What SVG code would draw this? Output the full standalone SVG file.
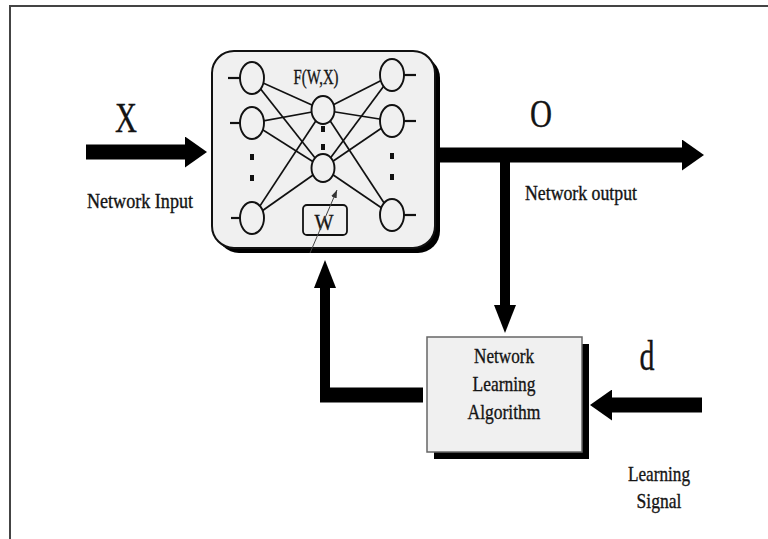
<svg xmlns="http://www.w3.org/2000/svg" width="768" height="539" viewBox="0 0 768 539">
  <style>
    .txt { font-family: "Liberation Serif", "Times New Roman", serif; fill: #141414; stroke: #141414; stroke-width: 0.35; }
    .neuron { fill: #f0f0f0; stroke: #111; stroke-width: 1.9; }
    .syn { stroke: #111; stroke-width: 1.7; fill: none; }
    .tick { stroke: #111; stroke-width: 2.2; }
    .dot { fill: #111; }
    .flow-h { stroke: #000; stroke-width: 15; fill: none; }
    .flow-v { stroke: #000; stroke-width: 10; fill: none; }
  </style>
  <defs>
    <marker id="head-h" markerUnits="userSpaceOnUse" viewBox="0 0 22 31" refX="0" refY="15.5" markerWidth="22" markerHeight="31" orient="auto">
      <path d="M0,0 L22,15.5 L0,31 Z" fill="#000"/>
    </marker>
    <marker id="head-v" markerUnits="userSpaceOnUse" viewBox="0 0 28 22" refX="0" refY="11" markerWidth="28" markerHeight="22" orient="auto">
      <path d="M0,0 L28,11 L0,22 Z" fill="#000"/>
    </marker>
    <marker id="head-thin" markerUnits="userSpaceOnUse" viewBox="0 0 8 6" refX="8" refY="3" markerWidth="8" markerHeight="6" orient="auto">
      <path d="M0,0 L8,3 L0,6 Z" fill="#333"/>
    </marker>
  </defs>

  <rect width="768" height="539" fill="#fff"/>
  <!-- page frame -->
  <path d="M10,539 V6 H768" fill="none" stroke="#444" stroke-width="2"/>

  <!-- neural network block -->
  <g id="network">
    <rect x="217" y="56" width="223" height="197" rx="22" fill="#000"/>
    <rect x="212" y="51" width="223" height="197" rx="22" fill="#f0f0f0" stroke="#111" stroke-width="2"/>
    <g class="syn">
      <line x1="252" y1="78" x2="323" y2="110"/>
      <line x1="252" y1="78" x2="323" y2="168"/>
      <line x1="252" y1="123" x2="323" y2="110"/>
      <line x1="252" y1="123" x2="323" y2="168"/>
      <line x1="252" y1="218" x2="323" y2="110"/>
      <line x1="252" y1="218" x2="323" y2="168"/>
      <line x1="323" y1="110" x2="392" y2="75"/>
      <line x1="323" y1="110" x2="392" y2="121"/>
      <line x1="323" y1="110" x2="392" y2="215"/>
      <line x1="323" y1="168" x2="392" y2="75"/>
      <line x1="323" y1="168" x2="392" y2="121"/>
      <line x1="323" y1="168" x2="392" y2="215"/>
    </g>
    <g class="tick">
      <line x1="228" y1="78" x2="240" y2="78"/>
      <line x1="230" y1="123" x2="240" y2="123"/>
      <line x1="231" y1="218" x2="240" y2="218"/>
      <line x1="404" y1="75" x2="416" y2="75"/>
      <line x1="404" y1="121" x2="416" y2="121"/>
      <line x1="404" y1="215" x2="416" y2="215"/>
    </g>
    <ellipse class="neuron" cx="252" cy="78" rx="12" ry="16"/>
    <ellipse class="neuron" cx="252" cy="123" rx="12" ry="16"/>
    <ellipse class="neuron" cx="252" cy="218" rx="12" ry="16"/>
    <ellipse class="neuron" cx="323" cy="110" rx="11.5" ry="14"/>
    <ellipse class="neuron" cx="323" cy="168" rx="11.5" ry="14"/>
    <ellipse class="neuron" cx="392" cy="75" rx="12" ry="16"/>
    <ellipse class="neuron" cx="392" cy="121" rx="12" ry="16"/>
    <ellipse class="neuron" cx="392" cy="215" rx="12" ry="16"/>
    <g class="dot">
      <rect x="250" y="154" width="4" height="6"/>
      <rect x="250" y="175" width="4" height="6"/>
      <rect x="321" y="126" width="4" height="6"/>
      <rect x="321" y="144" width="4" height="6"/>
      <rect x="390" y="153" width="4" height="6"/>
      <rect x="390" y="174" width="4" height="6"/>
    </g>
    <text class="txt" x="316" y="84" font-size="20" text-anchor="middle" textLength="45" lengthAdjust="spacingAndGlyphs">F(W,X)</text>
    <rect x="303" y="205" width="44" height="30" rx="4" fill="#f0f0f0" stroke="#111" stroke-width="1.8"/>
    <text class="txt" x="324" y="230" font-size="24" text-anchor="middle" textLength="19" lengthAdjust="spacingAndGlyphs">W</text>
    <line x1="310" y1="253" x2="337" y2="190" stroke="#444" stroke-width="1" marker-end="url(#head-thin)"/>
  </g>

  <!-- learning algorithm block -->
  <g id="learning-algorithm">
    <rect x="434" y="344" width="155" height="115" fill="#000"/>
    <rect x="427" y="337" width="155" height="115" fill="#f0f0f0" stroke="#666" stroke-width="1.5"/>
    <text class="txt" x="504" y="363" font-size="22" text-anchor="middle" textLength="60" lengthAdjust="spacingAndGlyphs">Network</text>
    <text class="txt" x="504" y="391" font-size="22" text-anchor="middle" textLength="63" lengthAdjust="spacingAndGlyphs">Learning</text>
    <text class="txt" x="504" y="419" font-size="22" text-anchor="middle" textLength="73" lengthAdjust="spacingAndGlyphs">Algorithm</text>
  </g>

  <!-- signals and labels -->
  <g id="labels">
    <text class="txt" x="126" y="132" font-size="42" text-anchor="middle" textLength="22" lengthAdjust="spacingAndGlyphs">X</text>
    <text class="txt" x="140" y="208" font-size="20" text-anchor="middle" textLength="106" lengthAdjust="spacingAndGlyphs">Network Input</text>
    <text class="txt" x="541" y="127" font-size="40" text-anchor="middle" textLength="22" lengthAdjust="spacingAndGlyphs">O</text>
    <text class="txt" x="581" y="200" font-size="20" text-anchor="middle" textLength="112" lengthAdjust="spacingAndGlyphs">Network output</text>
    <text class="txt" x="647" y="370" font-size="42" text-anchor="middle" textLength="15" lengthAdjust="spacingAndGlyphs">d</text>
    <text class="txt" x="659" y="481" font-size="22" text-anchor="middle" textLength="62" lengthAdjust="spacingAndGlyphs">Learning</text>
    <text class="txt" x="659" y="508" font-size="22" text-anchor="middle" textLength="45" lengthAdjust="spacingAndGlyphs">Signal</text>
  </g>

  <!-- connectors -->
  <g id="connectors">
    <line class="flow-h" x1="86" y1="152" x2="185" y2="152" marker-end="url(#head-h)"/>
    <line class="flow-h" x1="440" y1="155" x2="682" y2="155" marker-end="url(#head-h)"/>
    <line class="flow-v" x1="505" y1="148" x2="505" y2="305" marker-end="url(#head-v)"/>
    <line class="flow-h" x1="702" y1="405" x2="612" y2="405" marker-end="url(#head-h)"/>
    <line class="flow-h" x1="423" y1="395" x2="320" y2="395"/>
    <line class="flow-v" x1="325" y1="402" x2="325" y2="288" stroke-width="9" marker-end="url(#head-v)"/>
  </g>
</svg>
